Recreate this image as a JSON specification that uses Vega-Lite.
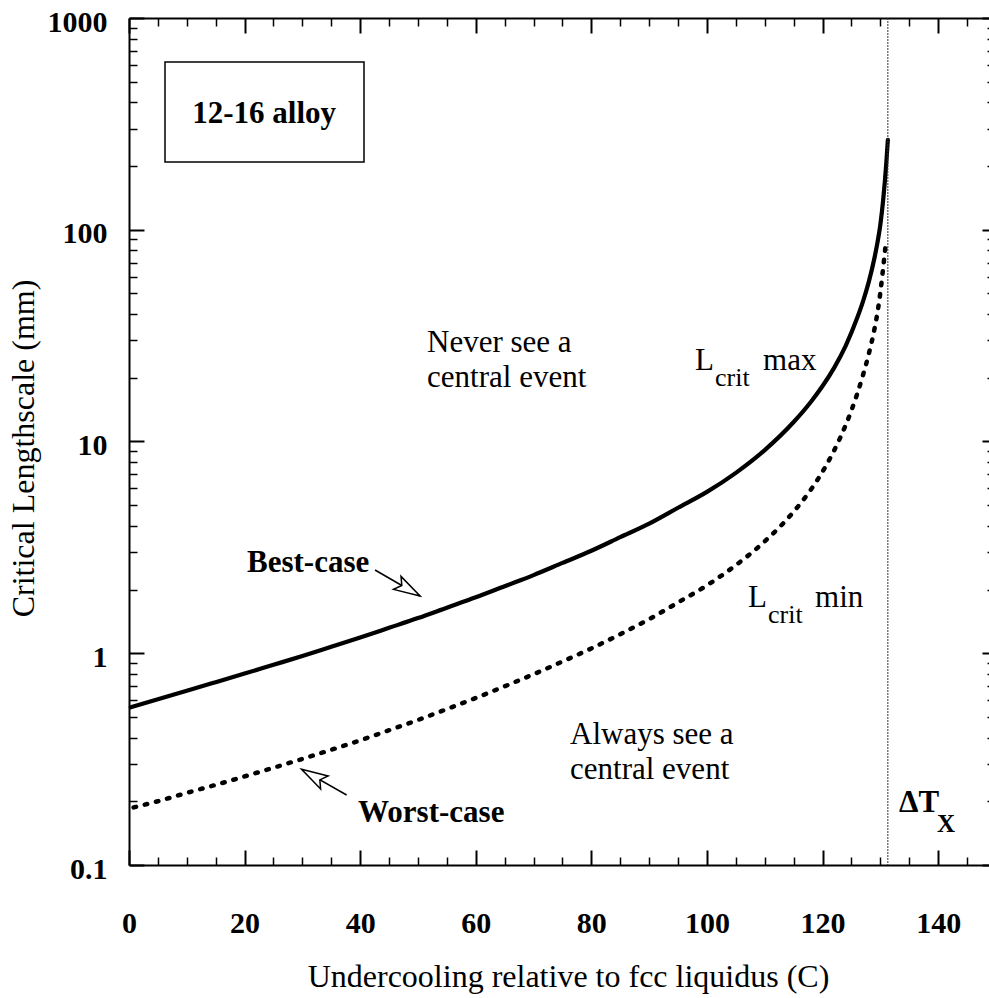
{
  "$schema": "https://vega.github.io/schema/vega-lite/v6.json",
  "width": 860,
  "height": 847,
  "autosize": {"type": "none"},
  "padding": {"left": 129, "top": 18, "right": 0, "bottom": 133},
  "background": "white",
  "config": {
    "view": {"stroke": null},
    "font": "Liberation Serif",
    "axis": {"grid": false, "domainColor": "black", "tickColor": "black", "labelColor": "black", "titleColor": "black", "labelFont": "Liberation Serif", "titleFont": "Liberation Serif", "domainWidth": 2, "tickWidth": 2}
  },
  "datasets": {
    "lcrit_max": [
      {"x": 0.3, "v": 0.556}, {"x": 5, "v": 0.607}, {"x": 10, "v": 0.665}, {"x": 15, "v": 0.73}, {"x": 20, "v": 0.802},
      {"x": 25, "v": 0.882}, {"x": 30, "v": 0.97}, {"x": 35, "v": 1.073}, {"x": 40, "v": 1.186}, {"x": 45, "v": 1.318},
      {"x": 50, "v": 1.466}, {"x": 55, "v": 1.641}, {"x": 60, "v": 1.837}, {"x": 65, "v": 2.073}, {"x": 70, "v": 2.339},
      {"x": 75, "v": 2.67}, {"x": 80, "v": 3.048}, {"x": 85, "v": 3.532}, {"x": 90, "v": 4.093}, {"x": 95, "v": 4.864},
      {"x": 100, "v": 5.781}, {"x": 105, "v": 7.112}, {"x": 110, "v": 9.11}, {"x": 115, "v": 12.36}, {"x": 118, "v": 15.42},
      {"x": 120, "v": 18.28}, {"x": 122, "v": 22.28}, {"x": 124, "v": 28.31}, {"x": 126, "v": 38.37}, {"x": 127, "v": 45.92},
      {"x": 128, "v": 56.75}, {"x": 129, "v": 73.96}, {"x": 129.5, "v": 86.9}, {"x": 130, "v": 105.7}, {"x": 130.5, "v": 139.3},
      {"x": 131, "v": 201.4}, {"x": 131.3, "v": 265.5}
    ],
    "lcrit_min": [
      {"x": 0.8, "v": 0.187}, {"x": 5, "v": 0.2}, {"x": 10, "v": 0.219}, {"x": 15, "v": 0.239}, {"x": 20, "v": 0.262},
      {"x": 25, "v": 0.288}, {"x": 30, "v": 0.317}, {"x": 35, "v": 0.35}, {"x": 40, "v": 0.388}, {"x": 45, "v": 0.433},
      {"x": 50, "v": 0.484}, {"x": 55, "v": 0.545}, {"x": 60, "v": 0.615}, {"x": 65, "v": 0.698}, {"x": 70, "v": 0.796},
      {"x": 75, "v": 0.914}, {"x": 80, "v": 1.054}, {"x": 85, "v": 1.23}, {"x": 90, "v": 1.449}, {"x": 95, "v": 1.737},
      {"x": 100, "v": 2.094}, {"x": 105, "v": 2.606}, {"x": 110, "v": 3.377}, {"x": 115, "v": 4.662}, {"x": 118, "v": 5.936},
      {"x": 120, "v": 7.203}, {"x": 122, "v": 9.07}, {"x": 124, "v": 11.95}, {"x": 126, "v": 16.81}, {"x": 127, "v": 20.59},
      {"x": 128, "v": 25.92}, {"x": 129, "v": 34.17}, {"x": 129.5, "v": 40.6}, {"x": 130, "v": 50.5}, {"x": 130.5, "v": 66.6},
      {"x": 131, "v": 89}
    ],
    "box": [{"x1": 6.23, "x2": 40.66, "v1": 619.5, "v2": 208.9}],
    "box_label": [{"x": 23.39, "v": 318.3, "text": "12-16 alloy"}],
    "tx": [{"x": 131.3}],
    "arrows": [
      {"x": 42.57, "v": 2.472, "xe": 50.35, "ve": 1.864},
      {"x": 37.65, "v": 0.2141, "xe": 29.87, "ve": 0.283}
    ],
    "head_best": [{"x": 50.35, "v": 1.864}],
    "head_worst": [{"x": 29.87, "v": 0.283}],
    "notes": [
      {"x": 51.57, "v": 26.47, "text": "Never see a"},
      {"x": 51.57, "v": 18.09, "text": "central event"},
      {"x": 76.31, "v": 0.3727, "text": "Always see a"},
      {"x": 76.31, "v": 0.2547, "text": "central event"},
      {"x": 97.94, "v": 21.76, "text": "L"},
      {"x": 109.7, "v": 21.76, "text": "max"},
      {"x": 107.1, "v": 1.653, "text": "L"},
      {"x": 118.7, "v": 1.653, "text": "min"}
    ],
    "notes_bold": [
      {"x": 20.42, "v": 2.419, "text": "Best-case"},
      {"x": 39.63, "v": 0.1596, "text": "Worst-case"},
      {"x": 133.24, "v": 0.178, "text": "ΔT"}
    ],
    "subs": [
      {"x": 101.4, "v": 18.29, "text": "crit"},
      {"x": 110.57, "v": 1.3896, "text": "crit"}
    ],
    "subs_bold": [
      {"x": 139.82, "v": 0.1432, "text": "X"}
    ]
  },
  "resolve": {"axis": {"x": "independent", "y": "independent"}},
  "layer": [
    {
      "data": {"name": "lcrit_max"},
      "mark": {"type": "line", "color": "black", "strokeWidth": 4.2, "interpolate": "monotone", "strokeCap": "round"},
      "encoding": {
        "x": {"field": "x", "type": "quantitative", "scale": {"domain": [0, 148.8], "nice": false, "zero": false},
          "axis": {"orient": "bottom", "values": [0, 20, 40, 60, 80, 100, 120, 140], "tickSize": -15, "labelFontSize": 30, "labelFontWeight": "bold", "labelPadding": 58, "labelFlush": false, "labelOverlap": false,
            "title": "Undercooling relative to fcc liquidus (C)", "titleFontSize": 32, "titleFontWeight": "normal", "titleX": 439, "titleY": 121, "titleBaseline": "alphabetic", "titleAlign": "center"}},
        "y": {"field": "v", "type": "quantitative", "scale": {"type": "log", "domain": [0.1, 1000], "nice": false},
          "axis": {"orient": "left", "values": [0.1, 1, 10, 100, 1000], "format": "~g", "tickSize": -15, "labelFontSize": 30, "labelFontWeight": "bold", "labelPadding": 37, "labelOffset": 4, "labelFlush": false, "labelOverlap": false,
            "title": "Critical Lengthscale (mm)", "titleFontSize": 32, "titleFontWeight": "normal", "titleX": -106, "titleY": 430, "titleAngle": -90, "titleBaseline": "middle", "titleAlign": "center"}}
      }
    },
    {
      "data": {"name": "lcrit_min"},
      "mark": {"type": "line", "color": "black", "strokeWidth": 4.5, "strokeDash": [2.5, 9], "strokeCap": "round", "interpolate": "monotone"},
      "encoding": {
        "x": {"field": "x", "type": "quantitative", "scale": {"domain": [0, 148.8], "nice": false, "zero": false},
          "axis": {"orient": "bottom", "values": [5, 10, 15, 25, 30, 35, 45, 50, 55, 65, 70, 75, 85, 90, 95, 105, 110, 115, 125, 130, 135, 145], "tickSize": -8, "tickWidth": 1.5, "labels": false, "domain": false, "title": null}},
        "y": {"field": "v", "type": "quantitative", "scale": {"type": "log", "domain": [0.1, 1000], "nice": false},
          "axis": {"orient": "left", "values": [0.2, 0.3, 0.4, 0.5, 0.6, 0.7, 0.8, 0.9, 2, 3, 4, 5, 6, 7, 8, 9, 20, 30, 40, 50, 60, 70, 80, 90, 200, 300, 400, 500, 600, 700, 800, 900], "tickSize": -8, "tickWidth": 1.5, "labels": false, "domain": false, "title": null}}
      }
    },
    {
      "data": {"name": "box"},
      "mark": {"type": "rect", "fill": "white", "stroke": "black", "strokeWidth": 1.5},
      "encoding": {
        "x": {"field": "x1", "type": "quantitative", "scale": {"domain": [0, 148.8], "nice": false, "zero": false},
          "axis": {"orient": "top", "values": [0, 20, 40, 60, 80, 100, 120, 140], "tickSize": -15, "labels": false, "domain": true, "title": null}},
        "x2": {"field": "x2"},
        "y": {"field": "v1", "type": "quantitative", "scale": {"type": "log", "domain": [0.1, 1000], "nice": false},
          "axis": {"orient": "right", "values": [0.1, 1, 10, 100, 1000], "tickSize": -7, "labels": false, "domain": false, "title": null}},
        "y2": {"field": "v2"}
      }
    },
    {
      "data": {"name": "box_label"},
      "mark": {"type": "text", "font": "Liberation Serif", "fontSize": 31, "fontWeight": "bold", "align": "center", "baseline": "alphabetic", "color": "black"},
      "encoding": {
        "x": {"field": "x", "type": "quantitative", "scale": {"domain": [0, 148.8], "nice": false, "zero": false},
          "axis": {"orient": "top", "values": [5, 10, 15, 25, 30, 35, 45, 50, 55, 65, 70, 75, 85, 90, 95, 105, 110, 115, 125, 130, 135, 145], "tickSize": -8, "tickWidth": 1.5, "labels": false, "domain": false, "title": null}},
        "y": {"field": "v", "type": "quantitative", "scale": {"type": "log", "domain": [0.1, 1000], "nice": false},
          "axis": {"orient": "right", "values": [0.2, 0.3, 0.4, 0.5, 0.6, 0.7, 0.8, 0.9, 2, 3, 4, 5, 6, 7, 8, 9, 20, 30, 40, 50, 60, 70, 80, 90, 200, 300, 400, 500, 600, 700, 800, 900], "tickSize": -2, "tickWidth": 1.5, "labels": false, "domain": false, "title": null}},
        "text": {"field": "text"}
      }
    },
    {
      "data": {"name": "tx"},
      "mark": {"type": "rule", "color": "#333333", "strokeWidth": 1, "strokeDash": [2, 1]},
      "encoding": {
        "x": {"field": "x", "type": "quantitative", "scale": {"domain": [0, 148.8], "nice": false, "zero": false}, "axis": null}
      }
    },
    {
      "data": {"name": "arrows"},
      "mark": {"type": "rule", "color": "black", "strokeWidth": 1.5},
      "encoding": {
        "x": {"field": "x", "type": "quantitative", "scale": {"domain": [0, 148.8], "nice": false, "zero": false}, "axis": null},
        "x2": {"field": "xe"},
        "y": {"field": "v", "type": "quantitative", "scale": {"type": "log", "domain": [0.1, 1000], "nice": false}, "axis": null},
        "y2": {"field": "ve"}
      }
    },
    {
      "data": {"name": "head_best"},
      "mark": {"type": "point", "shape": "M0,0L0.5,1.75L0,1.4L-0.5,1.75Z", "size": 900, "angle": 120, "filled": true, "fill": "white", "stroke": "black", "strokeWidth": 1.5, "opacity": 1},
      "encoding": {
        "x": {"field": "x", "type": "quantitative", "scale": {"domain": [0, 148.8], "nice": false, "zero": false}, "axis": null},
        "y": {"field": "v", "type": "quantitative", "scale": {"type": "log", "domain": [0.1, 1000], "nice": false}, "axis": null}
      }
    },
    {
      "data": {"name": "head_worst"},
      "mark": {"type": "point", "shape": "M0,0L0.5,1.75L0,1.4L-0.5,1.75Z", "size": 900, "angle": 300, "filled": true, "fill": "white", "stroke": "black", "strokeWidth": 1.5, "opacity": 1},
      "encoding": {
        "x": {"field": "x", "type": "quantitative", "scale": {"domain": [0, 148.8], "nice": false, "zero": false}, "axis": null},
        "y": {"field": "v", "type": "quantitative", "scale": {"type": "log", "domain": [0.1, 1000], "nice": false}, "axis": null}
      }
    },
    {
      "data": {"name": "notes"},
      "mark": {"type": "text", "font": "Liberation Serif", "fontSize": 31, "align": "left", "baseline": "alphabetic", "color": "black"},
      "encoding": {
        "x": {"field": "x", "type": "quantitative", "scale": {"domain": [0, 148.8], "nice": false, "zero": false}, "axis": null},
        "y": {"field": "v", "type": "quantitative", "scale": {"type": "log", "domain": [0.1, 1000], "nice": false}, "axis": null},
        "text": {"field": "text"}
      }
    },
    {
      "data": {"name": "notes_bold"},
      "mark": {"type": "text", "font": "Liberation Serif", "fontSize": 31, "fontWeight": "bold", "align": "left", "baseline": "alphabetic", "color": "black"},
      "encoding": {
        "x": {"field": "x", "type": "quantitative", "scale": {"domain": [0, 148.8], "nice": false, "zero": false}, "axis": null},
        "y": {"field": "v", "type": "quantitative", "scale": {"type": "log", "domain": [0.1, 1000], "nice": false}, "axis": null},
        "text": {"field": "text"}
      }
    },
    {
      "data": {"name": "subs"},
      "mark": {"type": "text", "font": "Liberation Serif", "fontSize": 26, "align": "left", "baseline": "alphabetic", "color": "black"},
      "encoding": {
        "x": {"field": "x", "type": "quantitative", "scale": {"domain": [0, 148.8], "nice": false, "zero": false}, "axis": null},
        "y": {"field": "v", "type": "quantitative", "scale": {"type": "log", "domain": [0.1, 1000], "nice": false}, "axis": null},
        "text": {"field": "text"}
      }
    },
    {
      "data": {"name": "subs_bold"},
      "mark": {"type": "text", "font": "Liberation Serif", "fontSize": 25, "fontWeight": "bold", "align": "left", "baseline": "alphabetic", "color": "black"},
      "encoding": {
        "x": {"field": "x", "type": "quantitative", "scale": {"domain": [0, 148.8], "nice": false, "zero": false}, "axis": null},
        "y": {"field": "v", "type": "quantitative", "scale": {"type": "log", "domain": [0.1, 1000], "nice": false}, "axis": null},
        "text": {"field": "text"}
      }
    }
  ]
}
